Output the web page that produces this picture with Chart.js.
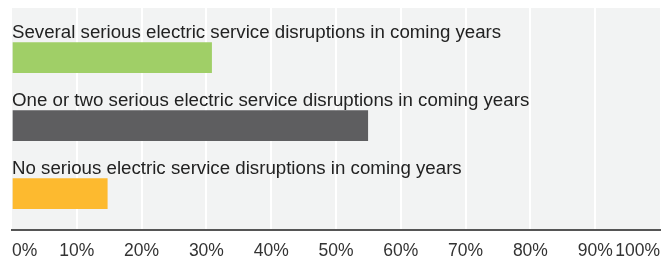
<!DOCTYPE html>
<html>
<head>
<meta charset="utf-8">
<script src="https://cdn.jsdelivr.net/npm/chart.js@4"></script>
<style>
    html, body { margin: 0; padding: 0; background: #fff; }
    #wrap { width: 664px; height: 260px; }
</style>
</head>
<body>
<div id="wrap"><canvas id="surveyChart" width="664" height="260"></canvas></div>
<script>
const categories = [
    "Several serious electric service disruptions in coming years",
    "One or two serious electric service disruptions in coming years",
    "No serious electric service disruptions in coming years"
];
const shares = [30.8, 54.9, 14.7];
const barColors = ["#a0cf67", "#5e5e60", "#fdba2f"];
const tickValues = [0, 10, 20, 30, 40, 50, 60, 70, 80, 90, 100];

// grey plot background
const plotBackground = {
    id: "plotBackground",
    beforeDraw(chart) {
        let a = chart.chartArea;
        let c = chart.ctx;
        c.save();
        c.fillStyle = "#f2f3f3";
        c.fillRect(a.left, a.top, a.right - a.left, a.bottom - a.top);
        c.restore();
    }
};

// category text above each bar
const barLabels = {
    id: "barLabels",
    afterDatasetsDraw(chart) {
        let c = chart.ctx;
        let meta = chart.getDatasetMeta(0);
        c.save();
        c.font = "18.7px 'Liberation Sans', Arial, sans-serif";
        c.fillStyle = "#222";
        c.textBaseline = "alphabetic";
        c.textAlign = "left";
        meta.data.forEach((bar, i) => {
            c.fillText(categories[i], chart.chartArea.left, bar.y - bar.height / 2 - 5);
        });
        c.restore();
    }
};

const ctx = document.getElementById("surveyChart").getContext("2d");

const chart = new Chart(ctx, {
    type: "bar",
    data: {
        datasets: [{
            data: shares.map((v, i) => ({ x: v, y: i })),
            backgroundColor: barColors,
            borderWidth: 0,
            barThickness: 30
        }]
    },
    options: {
        indexAxis: "y",
        responsive: false,
        animation: false,
        layout: { padding: { left: 12, right: 4, top: 8, bottom: 0 } },
        plugins: {
            legend: { display: false },
            tooltip: { enabled: false }
        },
        scales: {
            x: {
                type: "linear",
                min: 0,
                max: 100,
                afterBuildTicks: (scale) => { scale.ticks = tickValues.map(v => ({ value: v })); },
                afterFit: (scale) => {
                    scale.height = 30;
                    scale.paddingLeft = 0;
                    scale.paddingRight = 0;
                },
                ticks: {
                    align: "inner",
                    padding: 11,
                    color: "#333",
                    font: { family: "'Liberation Sans', Arial, sans-serif", size: 17.5 },
                    callback: (v) => v + "%"
                },
                grid: {
                    drawTicks: false,
                    lineWidth: 2,
                    color: (c) => (c.tick && (c.tick.value === 0 || c.tick.value === 100)) ? "rgba(0,0,0,0)" : "#ffffff"
                },
                border: { display: true, color: "#555", width: 2 }
            },
            y: {
                type: "linear",
                reverse: true,
                offset: false,
                min: -0.731,
                max: 2.534,
                display: false,
                grid: { display: false }
            }
        }
    },
    plugins: [plotBackground, barLabels]
});
</script>
</body>
</html>
